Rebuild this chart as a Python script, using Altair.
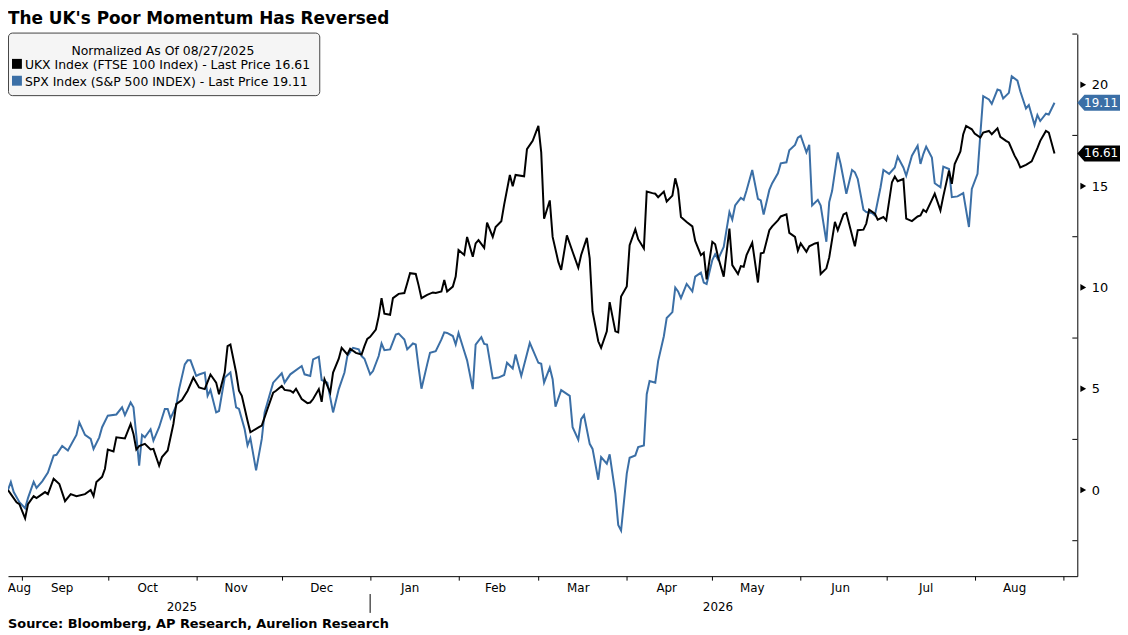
import altair as alt
import pandas as pd

# days after 08/27/2025 and normalized level
ukx_days = [0, 1, 3, 4, 6, 7, 9, 10, 13, 14, 16, 18, 20, 22, 24, 27, 29, 30, 31, 33,
            34, 35, 37, 38, 41, 43, 44, 45, 46, 48, 50, 51, 53, 54, 56, 58, 59, 61, 63, 65,
            67, 69, 71, 73, 74, 76, 77, 78,
            80, 81, 82, 84, 85, 88, 89, 91, 93, 94, 96, 97, 99, 100, 101, 103, 105, 106, 107, 109,
            110, 111, 113, 114, 116, 117, 119, 120, 122, 124, 125, 126, 127, 129, 130, 131, 132, 134, 135, 137,
            139, 140, 141, 143, 144, 145, 147, 149, 150, 152, 153, 154,
            156, 157, 158, 160, 161, 163, 164, 165, 167, 168, 170, 171, 173, 174, 176, 177, 178, 181, 182, 184,
            186, 187, 188, 190, 191, 193, 194, 196, 198, 200, 201, 203, 204, 205, 207, 208, 210, 211, 213, 214,
            215, 217, 218, 220, 221, 223, 224, 226, 227, 228, 230, 231, 233, 234, 235,
            236, 238, 240, 241, 243, 244, 245, 247, 248, 249, 251, 253, 254, 256, 257, 258, 259, 261, 263, 264,
            265, 267, 268, 270, 271, 273, 274, 276, 277, 278, 280, 281, 283, 284, 285, 287, 288, 290, 291, 293,
            294, 296, 297, 298, 300, 301, 302, 304, 305, 307, 308, 310, 311, 312, 314,
            315, 317, 319, 320, 321, 322, 324, 325, 327, 328, 330, 331, 332, 334, 335, 336, 338, 339, 341, 342,
            344, 345, 347, 348, 350, 351, 353, 354, 355, 357, 359, 361, 362, 364, 365, 367]
ukx_vals = [0.0, -0.2, -0.6, -0.7, -1.4, -0.7, -0.3, -0.4, -0.1, -0.2, 0.56, 0.3, -0.55, -0.2, -0.3, -0.2, 0.0, -0.3, 0.4, 0.65,
            1.05, 2.0, 1.9, 2.6, 2.55, 3.26, 2.77, 2.0, 2.17, 2.28, 2.0, 2.03, 1.2, 1.63, 1.95, 3.26, 4.24, 4.44, 4.9, 5.55,
            5.06, 4.98, 5.7, 5.3, 4.73, 5.8, 7.1, 7.18,
            5.8, 4.9, 4.65, 3.42, 2.85, 3.1, 3.18, 4.0, 4.81, 4.9, 5.14, 4.94, 4.9, 4.81, 5.0, 4.49, 4.29, 4.32, 4.49, 4.98,
            4.35, 5.47, 4.81, 5.8, 6.48, 7.02, 6.69, 6.97, 6.77, 6.69, 7.1, 7.46, 7.56, 7.92, 8.57, 9.47, 8.7, 8.65, 9.47, 9.68,
            9.72, 10.2, 10.7, 10.66, 10.1, 9.47, 9.63, 9.75, 9.72, 9.8, 10.37, 9.8,
            10.04, 10.53, 11.84, 11.6, 12.49, 11.51, 12.17, 12.33, 11.95, 13.2, 12.49, 12.98, 13.26, 14.08, 15.55, 14.99, 15.55, 15.48, 16.82, 17.23,
            17.97, 16.66, 13.39, 14.29, 12.49, 11.26, 10.86, 12.57, 11.76, 10.97, 11.6, 12.44, 11.43, 8.81, 7.34, 7.02, 7.83, 9.27, 7.83, 7.78,
            9.55, 10.04, 12.08, 12.87, 12.38, 11.92, 14.73, 14.65, 14.62, 14.45, 14.73, 14.24, 14.53, 15.38, 14.83,
            13.47, 13.23, 13.01, 12.29, 11.59, 11.71, 10.4, 12.25, 12.13, 11.51, 10.53, 12.9, 11.1, 10.66, 11.05, 11.02, 11.59, 12.2, 10.24, 11.68,
            11.71, 12.82, 13.01, 13.31, 13.5, 13.6, 12.69, 12.49, 11.81, 12.17, 11.76, 12.03, 12.17, 12.2, 10.66, 10.94, 11.48, 13.23, 12.82, 13.6,
            13.67, 12.57, 12.03, 12.82, 12.85, 13.15, 13.83, 13.64, 13.34, 13.47, 13.31, 15.19, 15.47, 15.24, 15.35,
            13.39, 13.27, 13.5, 13.55, 13.83, 13.72, 14.32, 14.62, 13.8, 14.49, 15.76, 15.11, 16.09, 16.71, 17.56, 17.97, 17.8, 17.59, 17.39, 17.64,
            17.72, 17.56, 17.85, 17.43, 17.23, 17.15, 16.5, 16.25, 15.92, 16.05, 16.22, 16.87, 17.23, 17.72, 17.64, 16.61]

spx_days = [0, 1, 2, 4, 6, 7, 9, 10, 12, 14, 16, 17, 19, 21, 24, 25, 27, 29, 30, 32,
            33, 35, 38, 40, 41, 43, 44, 45, 46, 47, 48, 50, 51, 53, 55, 56, 57, 59, 60, 62,
            63, 64, 66, 67, 69, 70, 71, 73, 74, 76, 78,
            80, 81, 83, 84, 85, 87, 89, 90, 92, 93, 96, 97, 99, 103, 104, 106, 107, 109, 110, 112,
            114, 116, 118, 119, 121, 123, 124, 125, 127, 128, 130, 131, 132, 134, 136, 137, 139, 140, 142, 143,
            144, 145, 147, 148, 150, 152, 153, 154,
            156, 157, 158, 160, 161, 163, 164, 166, 167, 168, 170, 172, 174, 175, 177, 178, 180, 183, 186, 187,
            188, 190, 191, 192, 194, 197, 198, 200, 201, 202, 204, 205, 207, 208, 210, 211, 213, 214, 215, 217,
            218, 220, 221, 223, 224, 225, 227, 228, 230, 231, 233, 234,
            235, 236, 238, 240, 241, 243, 244, 245, 247, 248, 249, 251, 253, 254, 255, 257, 258, 259, 261, 263,
            264, 265, 267, 268, 270, 271, 273, 274, 276, 277, 278, 280, 281, 282, 284, 285, 287, 288, 289, 291,
            292, 294, 296, 297, 298, 300, 301, 303, 304, 306, 307, 309, 311, 312, 314,
            315, 317, 319, 320, 321, 322, 324, 325, 327, 328, 330, 331, 333, 335, 337, 338, 340, 341, 342, 344,
            345, 347, 348, 349, 351, 352, 354, 355, 357, 358, 360, 361, 362, 364, 365, 367]
spx_vals = [0.0, 0.4, -0.1, -0.6, -0.9, -0.4, 0.4, 0.1, 0.43, 0.86, 1.7, 1.74, 2.17, 1.95, 2.72, 3.34, 2.72, 2.52, 2.03, 2.6,
            3.1, 3.67, 3.73, 4.08, 3.7, 4.32, 4.08, 2.7, 1.2, 2.72, 2.6, 3.0, 2.44, 3.1, 4.0, 4.0, 3.54, 4.16, 4.98, 6.2,
            6.4, 6.4, 5.63, 5.7, 5.8, 4.65, 4.94, 3.83, 3.9, 5.55, 5.8,
            4.08, 4.0, 3.0, 2.2, 2.56, 0.97, 2.52, 3.83, 4.81, 5.3, 5.76, 5.3, 5.71, 6.12, 5.71, 5.63, 6.45, 6.58, 5.43, 5.3,
            3.83, 4.98, 5.8, 6.61, 7.02, 6.94, 6.61, 6.48, 5.71, 5.87, 6.61, 7.23, 6.9, 6.94, 7.67, 7.72, 7.43, 6.94, 7.23, 7.18,
            6.04, 5.0, 6.2, 6.77, 6.85, 7.43, 7.78, 7.75,
            7.6, 7.18, 7.75, 6.85, 6.4, 4.98, 7.18, 7.54, 7.21, 7.18, 5.51, 5.55, 5.68, 6.28, 6.0, 6.69, 5.63, 7.26, 6.28, 6.23,
            5.3, 6.04, 5.47, 4.11, 4.93, 4.65, 3.1, 2.48, 3.5, 3.7, 2.28, 2.03, 0.51, 1.63, 1.3, 1.76, -0.17, -1.72, -2.0, 0.81,
            1.59, 1.71, 2.12, 2.2, 4.73, 5.38, 5.3, 6.36, 7.59, 8.49, 8.78, 9.99,
            9.8, 9.47, 10.17, 9.8, 10.53, 10.73, 10.24, 10.17, 11.35, 11.64, 11.38, 12.0, 13.72, 13.34, 14.04, 14.42, 14.32, 14.78, 15.79, 14.37,
            14.29, 13.6, 14.81, 15.14, 15.63, 16.12, 16.17, 16.77, 17.03, 17.39, 17.48, 16.66, 17.03, 14.04, 14.32, 14.04, 12.25, 14.21, 14.75, 16.66,
            16.09, 14.62, 15.79, 15.68, 15.35, 13.83, 13.72, 13.67, 13.55, 14.94, 15.79, 15.6, 15.92, 16.45, 15.92,
            15.51, 16.5, 16.99, 16.09, 16.58, 16.94, 16.41, 15.14, 14.94, 15.96, 15.84, 14.45, 14.49, 14.65, 12.98, 14.86, 15.6, 17.56, 19.44, 19.27,
            19.06, 19.76, 19.71, 19.32, 19.6, 20.42, 20.2, 19.68, 18.83, 19.0, 18.01, 18.5, 18.21, 18.57, 18.53, 19.11]

names = ["UKX Index (FTSE 100 Index)", "SPX Index (S&P 500 INDEX)"]
colors = ["#000000", "#3b6fa6"]

months = ["Aug", "Sep", "Oct", "Nov", "Dec", "Jan", "Feb", "Mar", "Apr", "May", "Jun", "Jul", "Aug"]
month_mid = ["2025-08-31", "2025-09-15", "2025-10-15", "2025-11-15", "2025-12-15", "2026-01-15",
             "2026-02-14", "2026-03-15", "2026-04-15", "2026-05-15", "2026-06-15", "2026-07-15", "2026-08-15"]
month_starts = [(2025, 9), (2025, 10), (2025, 11), (2025, 12), (2026, 1), (2026, 2), (2026, 3),
                (2026, 4), (2026, 5), (2026, 6), (2026, 7), (2026, 8), (2026, 9)]
years = ["2025", "2026"]
year_mid = ["2025-10-27", "2026-05-03"]
year_break = ["2026-01-01"]
y_major = [0, 5, 10, 15, 20]
y_minor = [-2.5, 2.5, 7.5, 12.5, 17.5, 22.5]

title = "The UK's Poor Momentum Has Reversed"
legend_title = "Normalized As Of 08/27/2025"
source = "Source: Bloomberg, AP Research, Aurelion Research"

W, H = 1077, 546
FONT = "DejaVu Sans"
TAG = "M -1 0 L -0.6 -0.45 L 1.6 -0.45 L 1.6 0.45 L -0.6 0.45 Z"

start = pd.Timestamp("2025-08-27")
ukx = pd.DataFrame({"date": start + pd.to_timedelta(ukx_days, unit="D"), "value": ukx_vals})
spx = pd.DataFrame({"date": start + pd.to_timedelta(spx_days, unit="D"), "value": spx_vals})

x_scale = alt.Scale(domain=[alt.DateTime(year=2025, month=8, date=27),
                            alt.DateTime(year=2026, month=9, date=6)])
y_scale = alt.Scale(domain=[-4.25, 22.5], nice=False, zero=False)

x_axis = alt.Axis(values=[alt.DateTime(year=y, month=m, date=1) for y, m in month_starts],
                  labels=False, tickSize=4, tickColor="black", domainColor="black",
                  grid=False, title=None)
y_axis = alt.Axis(orient="right", values=y_major, ticks=False, labelPadding=14,
                  labelFontSize=13, labelFont=FONT, labelColor="black",
                  domainColor="black", grid=False, title=None)


def X(field="date:T"):
    return alt.X(field, scale=x_scale, axis=x_axis)


def Y(field="value:Q"):
    return alt.Y(field, scale=y_scale, axis=y_axis)


spx_line = alt.Chart(spx).mark_line(color=colors[1], strokeWidth=2).encode(x=X(), y=Y())
ukx_line = alt.Chart(ukx).mark_line(color=colors[0], strokeWidth=2).encode(x=X(), y=Y())

minor = alt.Chart(pd.DataFrame({"value": y_minor})).mark_rule(color="black").encode(
    y=Y(), x=alt.value(W - 5), x2=alt.value(W))
major = alt.Chart(pd.DataFrame({"value": y_major})).mark_point(
    shape="triangle-right", filled=True, size=45, color="black", opacity=1).encode(
    y=Y(), x=alt.value(W + 6))

months_df = pd.DataFrame({"date": pd.to_datetime(month_mid), "label": months})
month_text = alt.Chart(months_df).mark_text(
    baseline="alphabetic", fontSize=12, font=FONT, color="black").encode(
    x=X(), y=alt.value(H + 16), text="label:N")
years_df = pd.DataFrame({"date": pd.to_datetime(year_mid), "label": years})
year_text = alt.Chart(years_df).mark_text(
    baseline="alphabetic", fontSize=12, font=FONT, color="black").encode(
    x=X(), y=alt.value(H + 35), text="label:N")
divider = alt.Chart(pd.DataFrame({"date": pd.to_datetime(year_break)})).mark_rule(color="black").encode(
    x=X(), y=alt.value(H + 18), y2=alt.value(H + 37))

last = pd.DataFrame({"series": names, "value": [ukx_vals[-1], spx_vals[-1]]})
last["label"] = last["value"].map(lambda v: f"{v:.2f}")
tags = alt.Chart(last).mark_point(shape=TAG, size=1296, filled=True, opacity=1, strokeWidth=0).encode(
    y=Y(), x=alt.value(W + 18),
    color=alt.Color("series:N", scale=alt.Scale(domain=names, range=colors), legend=None))
tag_text = alt.Chart(last).mark_text(color="white", fontSize=12, font=FONT, baseline="middle").encode(
    y=Y(), x=alt.value(W + 24), text="label:N")

one = pd.DataFrame({"a": [0]})
box = alt.Chart(one).mark_rect(fill="#f5f5f5", stroke="#444444", strokeWidth=1, cornerRadius=4).encode(
    x=alt.value(0.5), x2=alt.value(314), y=alt.value(-1), y2=alt.value(62))
box_title = alt.Chart(one).mark_text(fontSize=12.5, font=FONT, baseline="alphabetic").encode(
    x=alt.value(156), y=alt.value(21), text=alt.value(legend_title))

legend_layers = []
for i, (name, vals) in enumerate(zip(names, [ukx_vals, spx_vals])):
    row_y = 30 + 17 * i
    legend_layers.append(alt.Chart(one).mark_square(size=100, color=colors[i], opacity=1).encode(
        x=alt.value(9), y=alt.value(row_y)))
    legend_layers.append(alt.Chart(one).mark_text(fontSize=12.5, font=FONT, align="left",
                                                  baseline="alphabetic").encode(
        x=alt.value(17), y=alt.value(row_y + 5),
        text=alt.value(f"{name} - Last Price {vals[-1]:.2f}")))

head = alt.Chart(one).mark_text(fontSize=17, font=FONT, fontWeight="bold", align="left",
                                baseline="alphabetic").encode(
    x=alt.value(0), y=alt.value(-10), text=alt.value(title))
foot = alt.Chart(one).mark_text(fontSize=13, font=FONT, fontWeight="bold", align="left",
                                baseline="alphabetic").encode(
    x=alt.value(0), y=alt.value(H + 52), text=alt.value(source))

chart = alt.layer(
    spx_line, ukx_line, minor, major, month_text, year_text, divider,
    tags, tag_text, box, box_title, *legend_layers, head, foot,
).properties(
    width=W, height=H,
    padding={"left": 0, "top": 24, "right": 43, "bottom": 57},
    autosize=alt.AutoSizeParams(type="none"),
).configure_view(stroke=None)

chart.save("out.html", embed_options={"renderer": "svg", "actions": False})
